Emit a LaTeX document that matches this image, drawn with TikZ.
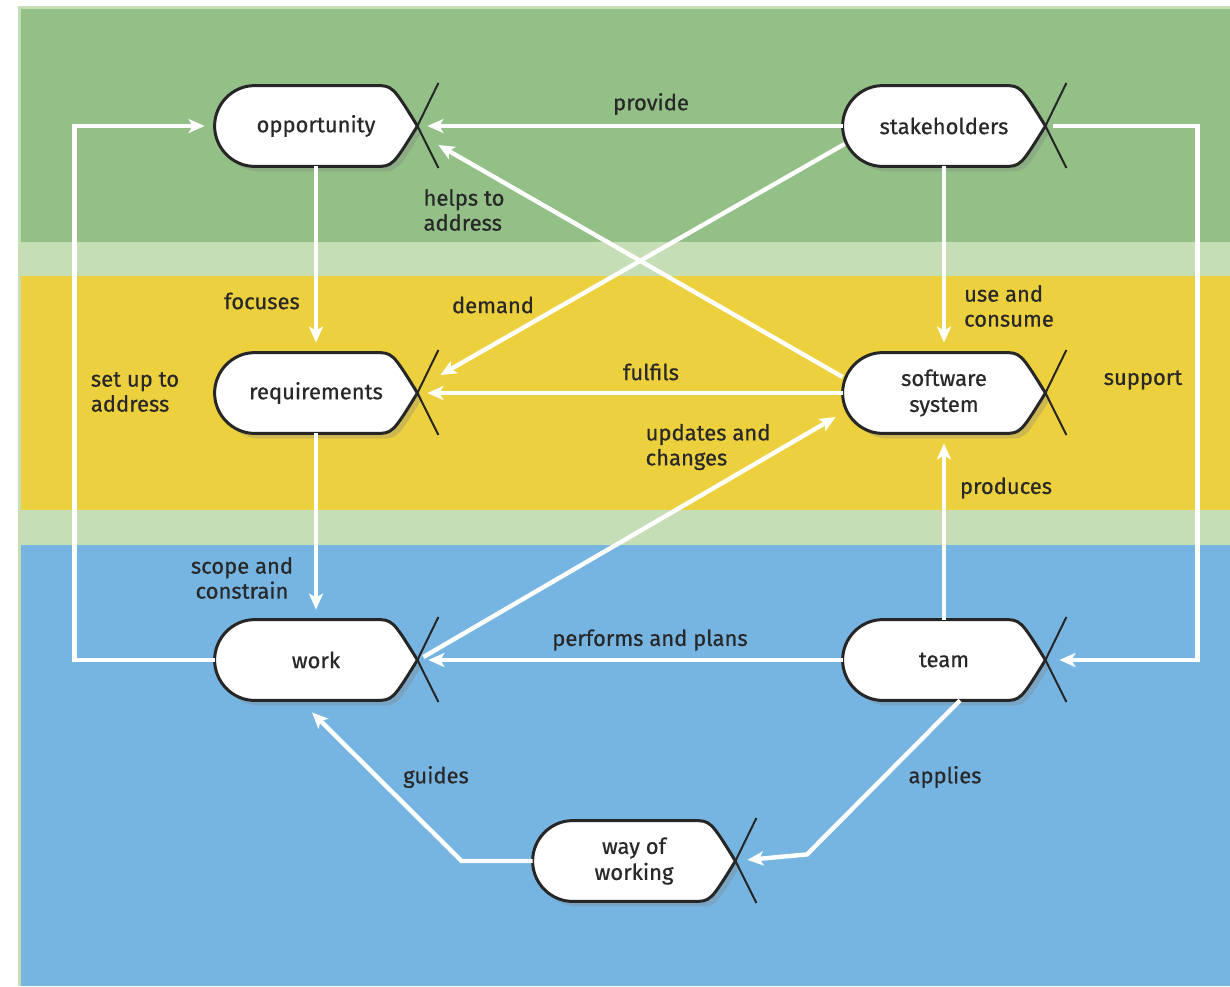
\documentclass[tikz,border=0pt]{standalone}
\usepackage{fontspec}
\setmainfont{Fira Sans}
\newfontfamily\inkfont{Fira Sans}[FakeBold=0.6]
\usetikzlibrary{positioning, arrows.meta, shadows}

\definecolor{bandgreen}{RGB}{146,192,134}
\definecolor{bandpale}{RGB}{197,222,181}
\definecolor{bandyellow}{RGB}{237,208,62}
\definecolor{bandblue}{RGB}{118,181,226}
\definecolor{inkgray}{RGB}{40,40,40}

\pgfdeclarelayer{bands}
\pgfdeclarelayer{shapes}
\pgfsetlayers{bands,shapes,main}

% outline of a kernel alpha: round back, pointed nose, crossed tail
\newcommand{\kernelshape}[1]{%
  \path[fill=white, draw=black!85, line width=1.5pt,
        drop shadow={shadow xshift=2.5pt, shadow yshift=-2.5pt, opacity=.3}]
    ([xshift=-21pt]#1.north east) -- ([xshift=20pt]#1.north west)
    .. controls ([xshift=9pt]#1.north west) and ([yshift=11pt]#1.west) .. (#1.west)
    .. controls ([yshift=-11pt]#1.west) and ([xshift=9pt]#1.south west) .. ([xshift=20pt]#1.south west)
    -- ([xshift=-21pt]#1.south east)
    .. controls ([xshift=-12.5pt]#1.south east) .. (#1.east)
    .. controls ([xshift=-12.5pt]#1.north east) .. cycle;
  \draw[black!85, line width=1pt] (#1.east) -- ++(10.5pt,21.5pt)
                                  (#1.east) -- ++(10.5pt,-21pt);
}

\begin{document}
\begin{tikzpicture}[
    x=0.5pt, y=-0.5pt,
    on grid,
    kernel/.style={
        minimum width=101pt,
        minimum height=40pt,
        inner sep=0pt,
        align=center,
        text=inkgray,
        font=\inkfont\fontsize{11}{13}\selectfont
    },
    lbl/.style={
        inner sep=0pt,
        align=left,
        text=inkgray,
        font=\inkfont\fontsize{11}{12.5}\selectfont
    },
    flow/.style={
        draw=white,
        line width=2.2pt,
        -{Stealth[length=8pt, width=7pt, inset=2pt]},
        shorten >=5pt
    }
]
\useasboundingbox (0,0) rectangle (1230,986);

% bands
\begin{pgfonlayer}{bands}
\fill[bandpale] (18,6) rectangle (1230,986);
\fill[bandgreen] (21,9) rectangle (1230,242);
\fill[bandyellow] (21,276) rectangle (1230,510);
\fill[bandblue] (21,545) rectangle (1230,986);
\end{pgfonlayer}

% alphas
\node[kernel] (opp) at (316,126) {opportunity};
\node[kernel, right=314pt of opp] (stake) {stakeholders};
\node[kernel, below=133.5pt of opp] (req) {requirements};
\node[kernel, right=314pt of req] (soft) {software\\system};
\node[kernel, below=133.5pt of req] (work) {work};
\node[kernel, right=314pt of work] (team) {team};
\node[kernel, below right=100.5pt and 159pt of work] (wow) {way of\\working};

\begin{pgfonlayer}{shapes}
\foreach \n in {opp,stake,req,soft,work,team,wow}
    \kernelshape{\n};
\end{pgfonlayer}

% relationships
\draw[flow] (work.west) -- ++(-140,0) |- (opp.west);
\draw[flow] (stake.west) -- (opp.east);
\draw[flow, shorten >=0pt] ([yshift=8pt]soft.west) -- ([shift={(10.5pt,-9.5pt)}]opp.east);
\draw[flow, shorten >=0pt] ([shift={(1pt,-9pt)}]stake.west) -- ([shift={(11.5pt,9pt)}]req.east);
\draw[flow] (opp.south) -- (req.north);
\draw[flow] (soft.west) -- (req.east);
\draw[flow, shorten >=0pt] ([shift={(3pt,1.5pt)}]work.east) -- ([shift={(-3.5pt,-12pt)}]soft.west);
\draw[flow] (req.south) -- (work.north);
\draw[flow] (stake.south) -- (soft.north);
\draw[flow, shorten >=7pt] ([xshift=4pt]stake.east) -- ++(144,0) |- (team.east);
\draw[flow] (team.north) -- (soft.south);
\draw[flow, shorten >=5.5pt] (team.west) -- (work.east);
\draw[flow, shorten >=0pt] (wow.west) -- ++(-71,0) -- ([shift={(-2pt,-6pt)}]work.south);
\draw[flow, shorten >=6pt] ([xshift=8pt]team.south) -- ++(-153,154) -- (wow.east);

% labels
\node[lbl] (l-provide) at (651,104) {provide};
\node[lbl] (l-helps) at (464,210) {helps to\\address};
\node[lbl] (l-demand) at (493,305) {demand};
\node[lbl] (l-focuses) at (262,301) {focuses};
\node[lbl] (l-setup) at (135,392) {set up to\\address};
\node[lbl] (l-fulfils) at (651,372) {fulfils};
\node[lbl] (l-updates) at (708,447) {updates and\\changes};
\node[lbl] (l-use) at (1009,306) {use and\\consume};
\node[lbl] (l-support) at (1143,380) {support};
\node[lbl] (l-produces) at (1006,488) {produces};
\node[lbl, align=center] (l-scope) at (242,578) {scope and\\constrain};
\node[lbl] (l-performs) at (650,640) {performs and plans};
\node[lbl] (l-guides) at (436,777) {guides};
\node[lbl] (l-applies) at (945,777) {applies};

\end{tikzpicture}
\end{document}
